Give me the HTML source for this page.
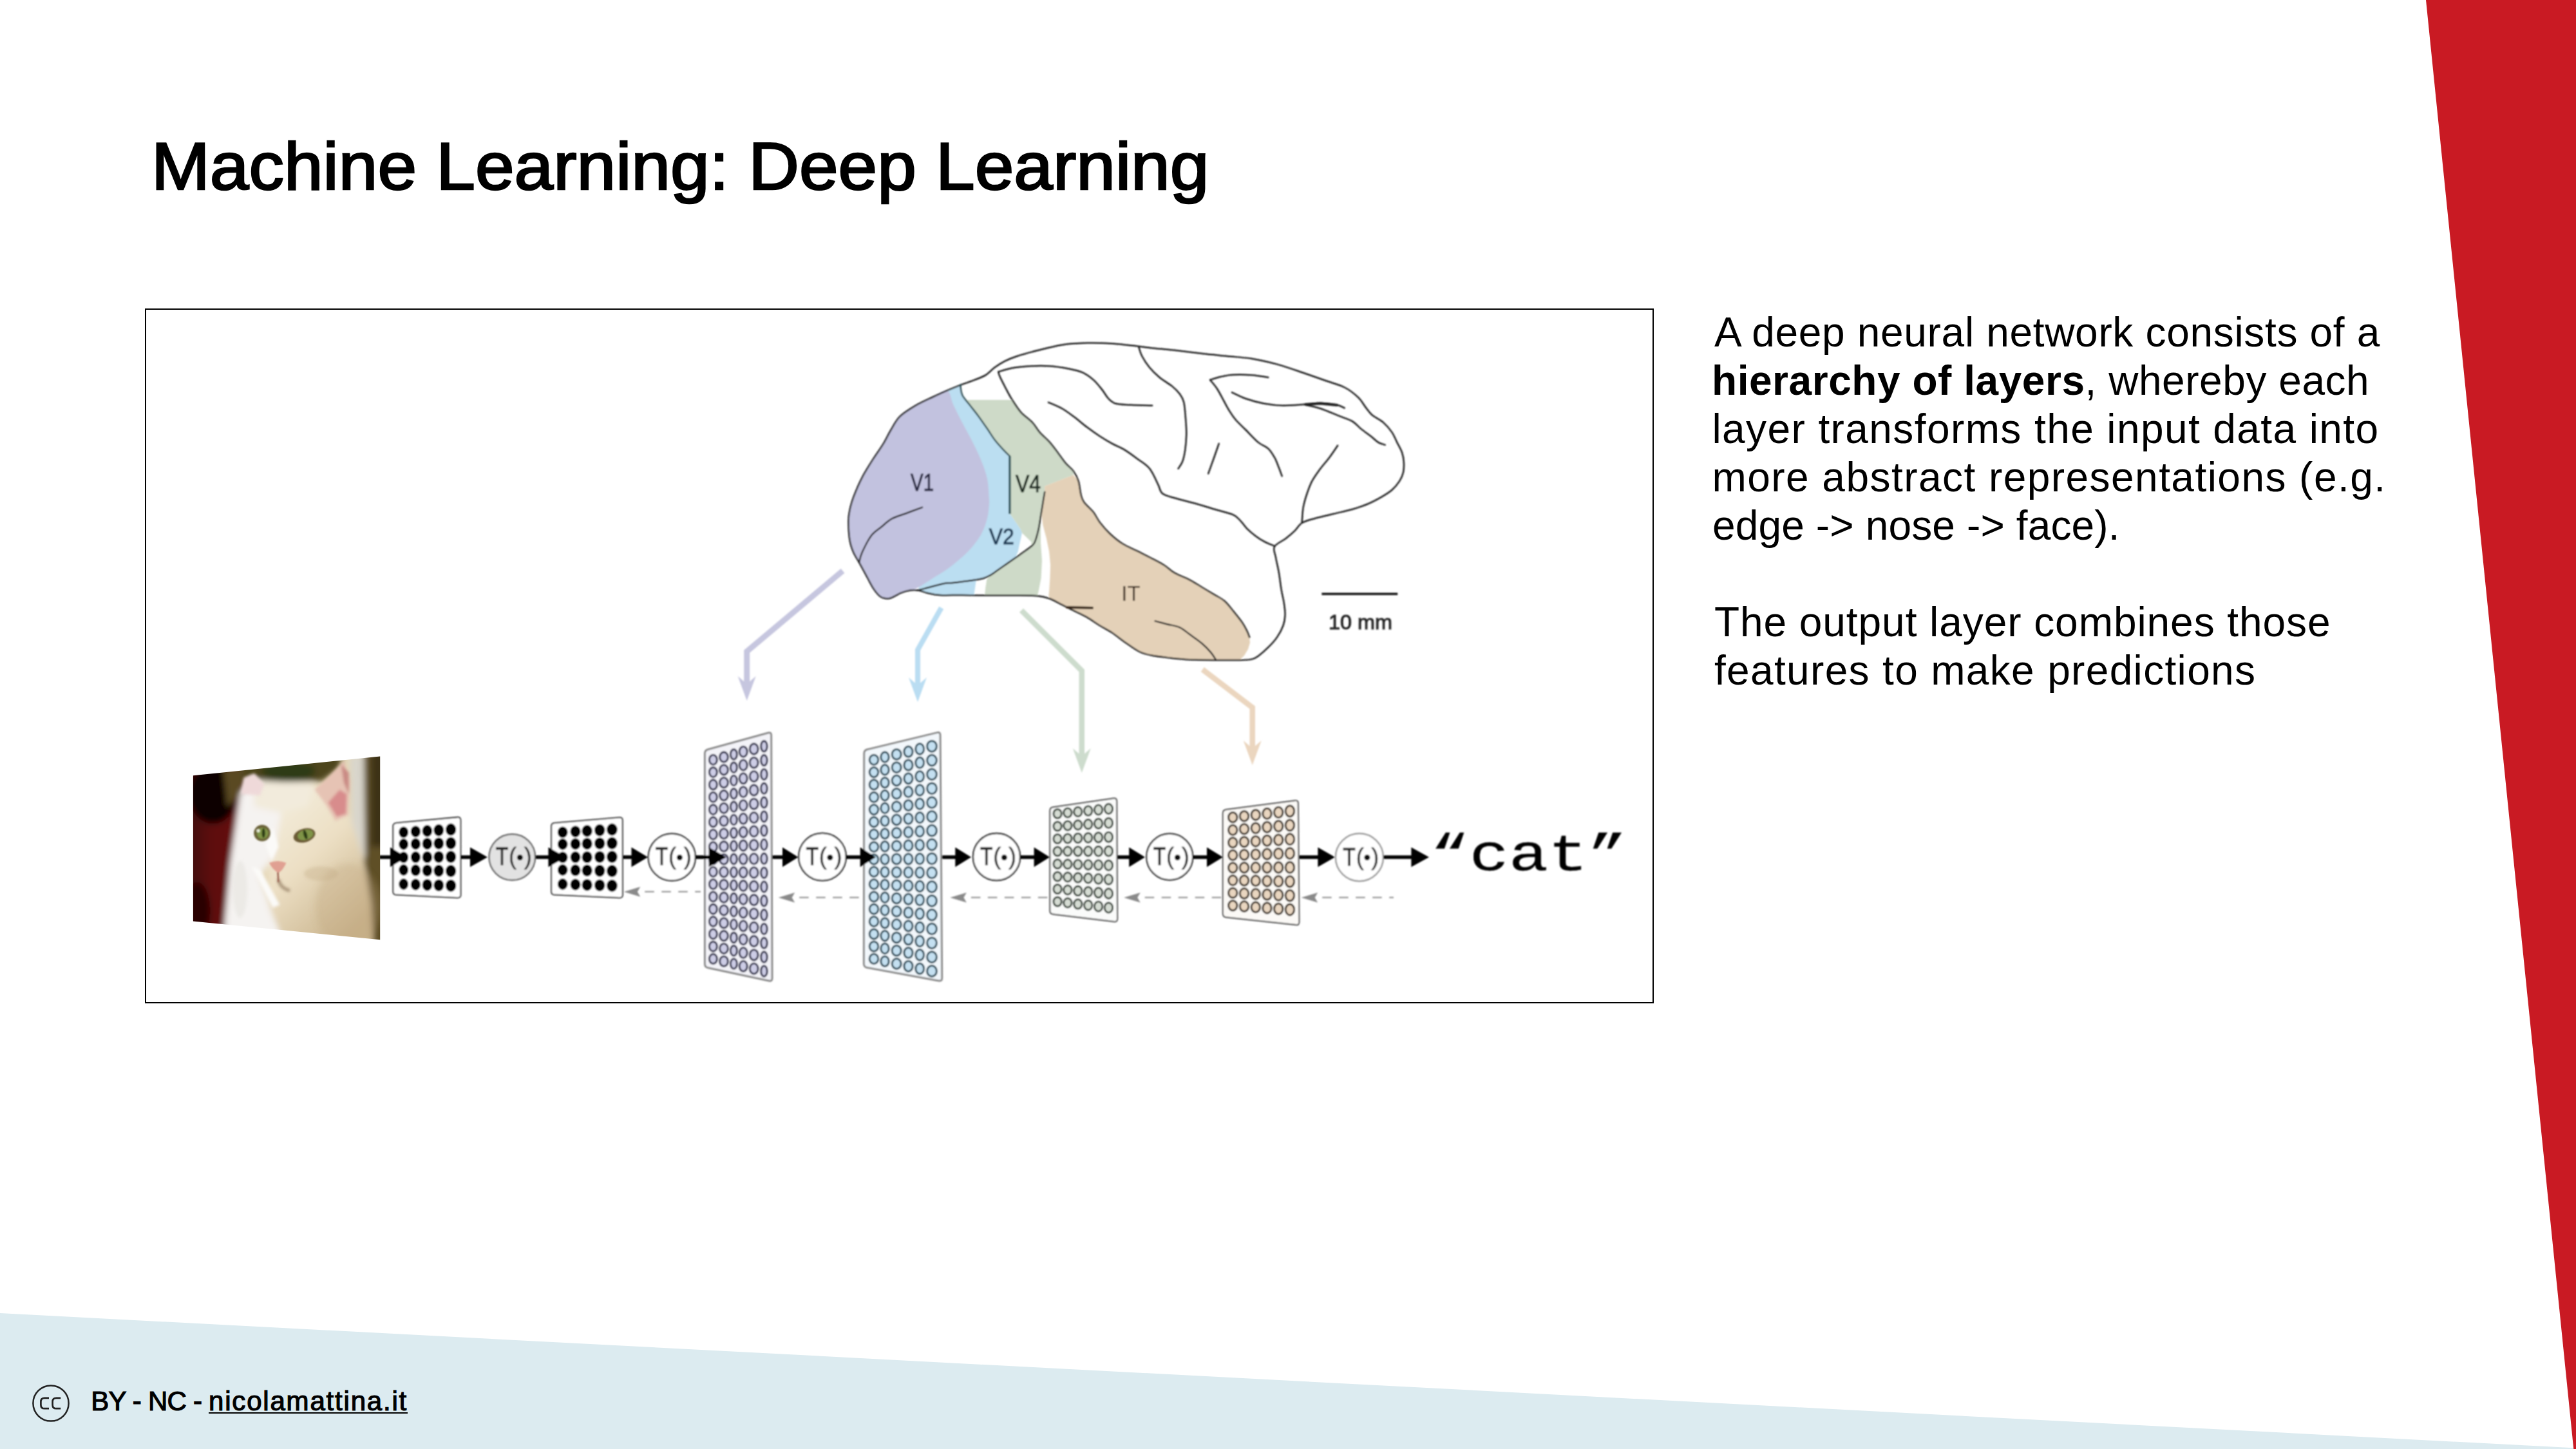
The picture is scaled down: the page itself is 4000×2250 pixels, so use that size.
<!DOCTYPE html>
<html lang="en">
<head>
<meta charset="utf-8">
<title>Machine Learning: Deep Learning</title>
<style>
html,body{margin:0;padding:0;background:#fff;}
body{width:4000px;height:2250px;position:relative;overflow:hidden;font-family:"Liberation Sans",sans-serif;color:#000;}
.abs{position:absolute;}
#deco{left:0;top:0;width:4000px;height:2250px;}
h1.title{margin:0;left:235.4px;top:205.6px;font-size:104px;line-height:104px;font-weight:normal;-webkit-text-stroke:2.6px #000;letter-spacing:0px;white-space:nowrap;transform-origin:0 0;transform:scaleX(1.0482);}
.body p{margin:0;position:absolute;left:2662px;white-space:nowrap;font-size:64px;line-height:76px;height:76px;}
.body b{font-weight:bold;}
.figure{left:224.9px;top:479px;width:2343.2px;height:1078.8px;border:2.25px solid #000;box-sizing:border-box;background:#fff;}
#figsvg{left:0;top:0;width:4000px;height:2250px;}
.footer{left:141.2px;top:2155.0px;font-size:42px;line-height:42px;white-space:nowrap;letter-spacing:0px;-webkit-text-stroke:1.2px #000;}
.footer .pre{letter-spacing:-0.77px;}
.footer u{letter-spacing:1.8px;text-decoration:underline;text-decoration-thickness:2.3px;text-underline-offset:2.5px;}
</style>
</head>
<body>
<svg id="deco" class="abs" viewBox="0 0 4000 2250" width="4000" height="2250">
<polygon points="0,2039 4000,2248.5 4000,2250 0,2250" fill="#DCEBF0"/>
<polygon points="3767,0 4000,0 4000,2250 3996.3,2250" fill="#C91A23"/>
</svg>
<h1 class="title abs">Machine Learning: Deep Learning</h1>
<div class="figure abs"></div>
<svg id="figsvg" class="abs" viewBox="0 0 4000 2250" width="4000" height="2250">
<defs>
<filter id="soft" x="-2%" y="-2%" width="104%" height="104%"><feGaussianBlur stdDeviation="0.95"/></filter>
<clipPath id="catclip"><polygon points="299.9,1204.2 590.2,1174.4 590.2,1459.2 299.9,1430.5"/></clipPath>
<filter id="cb1" x="-20%" y="-20%" width="140%" height="140%"><feGaussianBlur stdDeviation="22"/></filter>
<filter id="cb2" x="-20%" y="-20%" width="140%" height="140%"><feGaussianBlur stdDeviation="10"/></filter>
<filter id="cb3" x="-30%" y="-30%" width="160%" height="160%"><feGaussianBlur stdDeviation="5"/></filter>
<linearGradient id="catface" x1="0" y1="0" x2="0.6" y2="1"><stop offset="0" stop-color="#f6f0e2"/><stop offset="0.5" stop-color="#ecdfc4"/><stop offset="1" stop-color="#c9b38c"/></linearGradient>
<linearGradient id="catred" x1="0" y1="0" x2="1" y2="0"><stop offset="0" stop-color="#2a0404"/><stop offset="0.5" stop-color="#5c0c0c"/><stop offset="1" stop-color="#6a1212"/></linearGradient>

</defs>
<g filter="url(#soft)">
<path d="M1447.5,617.0L1470.8,606.4L1492.2,597.6L1494.1,613.2L1505.7,628.7L1519.3,646.2L1532.9,665.6L1544.6,683.0L1558.2,698.6L1567.9,708.3L1568.3,798.0L1576.6,809.7L1584.9,822.1L1587.0,827.6L1584.9,837.3L1582.1,849.7L1580.8,856.6L1576.6,866.3L1562.8,875.9L1549.0,885.6L1538.0,893.2L1526.9,898.0L1515.9,900.8L1512.4,924.0L1494.1,924.0L1459.2,924.0L1439.8,920.7L1426.2,916.8L1440.0,800.0Z" fill="#BBDEF1"/>
<path d="M1412.6,916.8C1410.0,917.4 1403.8,918.8 1399.0,920.7C1394.2,922.7 1387.7,927.1 1383.5,928.5C1379.3,929.9 1376.7,929.6 1373.8,929.1C1370.9,928.6 1368.9,928.1 1366.0,925.6C1363.1,923.1 1359.9,919.4 1356.3,913.9C1352.7,908.4 1348.3,899.4 1344.6,892.6C1340.9,885.8 1337.2,879.0 1334.0,873.2C1330.8,867.4 1327.6,863.4 1325.2,857.6C1322.8,851.8 1320.7,846.3 1319.4,838.2C1318.1,830.1 1317.5,816.8 1317.5,809.1C1317.5,801.4 1318.2,798.1 1319.5,792.0C1320.8,785.9 1322.0,780.8 1325.2,772.3C1328.4,763.8 1333.6,751.3 1338.8,741.3C1344.0,731.3 1350.8,720.9 1356.3,712.2C1361.8,703.5 1367.3,696.4 1371.8,688.9C1376.3,681.4 1379.3,674.5 1383.5,667.5C1387.7,660.5 1390.9,653.2 1397.0,647.1C1403.1,641.0 1411.9,635.6 1420.3,630.6C1428.7,625.6 1439.1,621.0 1447.5,617.0C1455.9,613.0 1465.3,604.4 1470.8,606.4C1476.3,608.4 1476.6,620.5 1480.5,628.7C1484.4,637.0 1489.2,646.5 1494.1,655.9C1498.9,665.3 1504.8,675.3 1509.6,685.0C1514.4,694.7 1519.3,704.4 1523.2,714.1C1527.1,723.8 1530.8,733.5 1532.9,743.2C1535.0,752.9 1535.3,765.3 1535.8,772.3C1536.3,779.3 1536.3,779.5 1535.8,785.0C1535.3,790.5 1535.0,797.6 1532.9,805.2C1530.8,812.8 1528.1,822.1 1523.2,830.5C1518.3,838.9 1511.9,847.3 1503.8,855.7C1495.7,864.1 1484.1,873.8 1474.7,880.9C1465.3,888.0 1455.6,893.2 1447.5,898.4C1439.4,903.6 1431.7,908.9 1426.2,912.0C1420.7,915.1 1416.8,916.0 1414.5,916.8C1412.2,917.6 1415.2,916.1 1412.6,916.8Z" fill="#C2C2DF"/>
<path d="M1500.0,621.0L1566.0,621.0L1571.7,620.9L1585.3,640.3L1602.8,655.9L1614.4,671.4L1630.0,686.9L1643.6,704.4L1655.2,719.9L1666.8,731.6L1666.8,737.4L1645.0,746.0L1622.2,755.0L1622.2,764.1L1619.4,780.7L1616.0,801.4L1616.0,842.8L1618.0,870.4L1616.6,898.0L1612.5,918.7L1611.1,924.6L1571.7,924.6L1529.0,924.6L1530.4,911.8L1532.4,899.4L1538.0,893.2L1549.0,885.6L1562.8,875.9L1576.6,866.3L1590.4,856.6L1601.5,848.3L1601.5,841.4L1587.0,827.6L1584.9,822.1L1576.6,809.7L1568.3,798.0L1567.9,708.3L1558.2,698.6L1544.6,683.0L1532.9,665.6L1519.3,646.2L1505.7,628.7Z" fill="#CEDAC8"/>
<path d="M1666.8,737.4L1674.6,747.1L1678.5,768.4L1683.3,780.0L1697.9,795.5L1707.6,811.0L1723.1,828.5L1742.5,844.0L1765.8,855.7L1788.8,867.3L1808.2,878.0L1823.8,889.7L1847.0,900.3L1866.5,912.0L1885.9,923.6L1901.4,933.3L1915.0,948.9L1928.6,966.3L1936.3,979.9L1940.2,989.6L1941.0,998.0L1938.0,1008.0L1932.0,1018.0L1924.7,1025.0L1885.9,1025.0L1847.0,1024.2L1817.9,1021.7L1788.8,1017.8L1769.4,1012.0L1748.0,998.0L1727.0,982.5L1707.6,971.2L1688.2,958.6L1668.8,948.9L1649.4,939.2L1630.0,929.5L1628.4,925.0L1629.1,918.7L1630.4,898.0L1631.1,877.3L1629.1,856.6L1624.9,835.9L1619.4,815.2L1617.5,801.4L1619.4,780.7L1622.2,764.1L1622.2,755.0L1645.0,746.0Z" fill="#E4D1B8"/>
<g fill="none" stroke="#1c1c1c" stroke-width="2.5" stroke-linecap="round" stroke-linejoin="round">
<path d="M1373.8,929.1C1370.9,928.6 1368.9,928.1 1366.0,925.6C1363.1,923.1 1359.9,919.4 1356.3,913.9C1352.7,908.4 1348.3,899.4 1344.6,892.6C1340.9,885.8 1337.2,879.0 1334.0,873.2C1330.8,867.4 1327.6,863.4 1325.2,857.6C1322.8,851.8 1320.7,846.3 1319.4,838.2C1318.1,830.1 1317.5,816.8 1317.5,809.1C1317.5,801.4 1318.2,798.1 1319.5,792.0C1320.8,785.9 1322.0,780.8 1325.2,772.3C1328.4,763.8 1333.6,751.3 1338.8,741.3C1344.0,731.3 1350.8,720.9 1356.3,712.2C1361.8,703.5 1367.3,696.4 1371.8,688.9C1376.3,681.4 1379.3,674.5 1383.5,667.5C1387.7,660.5 1390.9,653.2 1397.0,647.1C1403.1,641.0 1411.9,635.6 1420.3,630.6C1428.7,625.6 1439.1,621.0 1447.5,617.0C1455.9,613.0 1463.3,609.6 1470.8,606.4C1478.2,603.2 1485.1,600.4 1492.2,597.6C1499.3,594.9 1507.0,592.5 1513.5,589.9C1520.0,587.3 1525.8,585.3 1531.0,582.1C1536.2,578.9 1539.8,574.0 1544.6,570.5C1549.4,567.0 1554.3,563.7 1560.1,560.8C1565.9,557.9 1571.1,555.8 1579.5,553.0C1587.9,550.2 1598.9,547.2 1610.6,544.3C1622.2,541.4 1636.5,537.5 1649.4,535.5C1662.3,533.5 1675.3,532.9 1688.2,532.6C1701.1,532.3 1714.1,532.8 1727.0,533.6C1739.9,534.4 1755.5,536.4 1765.8,537.5C1776.1,538.6 1778.5,539.3 1788.8,540.4C1799.1,541.5 1814.6,542.8 1827.6,544.3C1840.5,545.8 1853.5,547.6 1866.5,549.1C1879.5,550.6 1892.4,551.7 1905.3,553.0C1918.2,554.3 1931.2,554.8 1944.1,556.9C1957.0,559.0 1970.0,562.0 1982.9,565.6C1995.8,569.2 2008.8,573.8 2021.7,578.2C2034.7,582.6 2049.6,587.9 2060.6,591.8C2071.6,595.7 2079.6,597.3 2087.7,601.5C2095.8,605.7 2103.6,611.9 2109.1,617.1C2114.6,622.3 2117.1,628.1 2120.7,632.6C2124.2,637.1 2125.9,640.3 2130.4,644.2C2134.9,648.1 2142.7,651.4 2147.9,655.9C2153.1,660.4 2157.9,666.2 2161.5,671.4C2165.1,676.6 2166.7,681.7 2169.3,686.9C2171.9,692.1 2175.2,697.3 2177.0,702.5C2178.8,707.7 2179.6,712.8 2179.9,718.0C2180.2,723.2 2180.1,728.6 2179.0,733.5C2177.9,738.4 2176.0,742.6 2173.1,747.1C2170.2,751.6 2166.3,756.5 2161.5,760.7C2156.7,764.9 2150.5,768.6 2144.0,772.3C2137.5,776.0 2130.1,779.9 2122.7,783.0C2115.3,786.1 2108.1,788.5 2099.4,791.0C2090.7,793.5 2080.0,795.6 2070.3,798.0C2060.6,800.4 2049.2,802.9 2041.1,805.2C2033.0,807.5 2026.9,808.8 2021.7,812.0C2016.5,815.2 2014.3,820.6 2010.1,824.6C2005.9,828.6 2001.7,832.2 1996.5,836.3C1991.3,840.3 1981.6,844.0 1979.0,848.9C1976.4,853.8 1979.9,858.8 1981.0,865.4C1982.1,872.0 1984.3,880.3 1985.8,888.7C1987.2,897.1 1988.4,908.1 1989.7,915.9C1991.0,923.7 1992.6,928.8 1993.6,935.3C1994.6,941.8 1995.7,948.7 1995.5,954.7C1995.3,960.7 1994.7,965.4 1992.6,971.2C1990.5,977.0 1986.8,983.9 1982.9,989.6C1979.0,995.3 1974.2,1000.4 1969.3,1005.2C1964.4,1010.1 1958.0,1015.6 1953.8,1018.7C1949.6,1021.8 1948.9,1022.6 1944.1,1023.6C1939.2,1024.7 1934.4,1024.8 1924.7,1025.0C1915.0,1025.2 1898.9,1025.1 1885.9,1025.0C1873.0,1024.9 1858.3,1024.8 1847.0,1024.2C1835.7,1023.7 1827.6,1022.8 1817.9,1021.7C1808.2,1020.6 1796.9,1019.4 1788.8,1017.8C1780.7,1016.2 1776.2,1015.3 1769.4,1012.0C1762.6,1008.7 1755.1,1002.9 1748.0,998.0C1740.9,993.1 1733.7,987.0 1727.0,982.5C1720.3,978.0 1714.1,975.2 1707.6,971.2C1701.1,967.2 1694.7,962.3 1688.2,958.6C1681.7,954.9 1675.3,952.1 1668.8,948.9C1662.3,945.7 1655.9,942.4 1649.4,939.2C1642.9,936.0 1636.5,931.8 1630.0,929.5C1623.5,927.2 1620.3,926.0 1610.6,925.2C1600.9,924.4 1584.7,924.7 1571.7,924.6C1558.8,924.5 1545.8,924.7 1532.9,924.6C1520.0,924.5 1506.4,924.1 1494.1,924.0C1481.8,923.9 1468.2,924.5 1459.2,924.0C1450.2,923.5 1445.3,921.9 1439.8,920.7C1434.3,919.5 1430.7,917.4 1426.2,916.8C1421.7,916.1 1417.1,916.1 1412.6,916.8C1408.1,917.4 1403.8,918.8 1399.0,920.7C1394.2,922.7 1387.7,927.1 1383.5,928.5C1379.3,929.9 1376.7,929.6 1373.8,929.1Z"/>
<path d="M1550.4,577.3C1550.7,578.4 1550.4,579.7 1552.3,584.1C1554.2,588.5 1558.8,597.4 1562.0,603.5C1565.2,609.6 1567.8,614.8 1571.7,620.9C1575.6,627.0 1580.1,634.5 1585.3,640.3C1590.5,646.1 1597.9,650.7 1602.8,655.9C1607.7,661.1 1609.9,666.2 1614.4,671.4C1618.9,676.6 1625.1,681.4 1630.0,686.9C1634.9,692.4 1639.4,698.9 1643.6,704.4C1647.8,709.9 1651.3,715.4 1655.2,719.9C1659.1,724.4 1663.6,727.1 1666.8,731.6C1670.0,736.1 1672.6,741.0 1674.6,747.1C1676.5,753.2 1677.0,762.9 1678.5,768.4C1680.0,773.9 1680.1,775.5 1683.3,780.0C1686.5,784.5 1693.9,790.3 1697.9,795.5C1702.0,800.7 1703.4,805.5 1707.6,811.0C1711.8,816.5 1717.3,823.0 1723.1,828.5C1728.9,834.0 1735.4,839.5 1742.5,844.0C1749.6,848.5 1758.1,851.8 1765.8,855.7C1773.5,859.6 1781.7,863.6 1788.8,867.3C1795.9,871.0 1802.4,874.3 1808.2,878.0C1814.0,881.7 1817.3,886.0 1823.8,889.7C1830.3,893.4 1839.9,896.6 1847.0,900.3C1854.1,904.0 1860.0,908.1 1866.5,912.0C1873.0,915.9 1880.1,920.1 1885.9,923.6C1891.7,927.1 1896.6,929.1 1901.4,933.3C1906.2,937.5 1910.5,943.4 1915.0,948.9C1919.5,954.4 1925.0,961.1 1928.6,966.3C1932.1,971.5 1934.4,976.0 1936.3,979.9C1938.2,983.8 1939.5,988.0 1940.2,989.6"/>
<path d="M1550.4,577.3C1554.0,576.3 1563.3,572.9 1571.7,571.4C1580.1,569.9 1591.2,569.0 1600.9,568.5C1610.6,568.0 1620.3,567.9 1630.0,568.5C1639.7,569.1 1650.7,570.8 1659.1,572.4C1667.5,574.0 1673.9,575.3 1680.4,578.2C1686.9,581.1 1692.7,585.4 1697.9,589.9C1703.1,594.4 1707.6,600.5 1711.5,605.4C1715.4,610.2 1717.7,615.4 1721.2,619.0C1724.8,622.6 1727.0,625.2 1732.8,626.8C1738.6,628.4 1746.7,628.2 1756.1,628.7C1765.5,629.2 1783.6,629.5 1789.1,629.7"/>
<path d="M1628.0,624.8C1631.6,626.4 1642.6,630.6 1649.4,634.5C1656.2,638.4 1662.3,643.2 1668.8,648.1C1675.3,653.0 1681.7,658.8 1688.2,663.6C1694.7,668.5 1701.1,673.0 1707.6,677.2C1714.1,681.4 1720.5,685.3 1727.0,688.9C1733.5,692.5 1739.9,694.7 1746.4,698.6C1752.9,702.5 1759.3,707.4 1765.8,712.2C1772.3,717.1 1779.8,720.9 1785.2,727.7C1790.7,734.5 1795.2,746.4 1798.5,752.9C1801.8,759.4 1800.5,762.9 1805.3,766.5C1810.1,770.1 1819.0,771.7 1827.6,774.3C1836.2,776.9 1847.1,779.2 1856.8,782.0C1866.5,784.8 1876.2,787.9 1885.9,790.8C1895.6,793.7 1908.2,796.3 1915.0,799.4C1921.8,802.5 1923.0,805.5 1926.6,809.1C1930.1,812.7 1932.4,816.9 1936.3,820.8C1940.2,824.7 1945.4,829.0 1949.9,832.4C1954.4,835.8 1958.7,838.5 1963.5,841.1C1968.3,843.7 1976.4,846.8 1979.0,847.9"/>
<path d="M1768.4,539.4C1769.2,541.7 1770.5,547.8 1773.3,553.0C1776.0,558.2 1780.4,565.0 1784.9,570.5C1789.4,576.0 1794.7,581.1 1800.5,586.0C1806.3,590.9 1814.7,595.4 1819.9,599.6C1825.1,603.8 1828.4,607.0 1831.5,611.2C1834.6,615.4 1836.7,618.0 1838.3,624.8C1839.9,631.6 1840.5,643.6 1841.2,652.0C1841.9,660.4 1842.4,667.5 1842.2,675.3C1842.0,683.1 1841.3,691.8 1840.3,698.6C1839.3,705.4 1838.2,711.1 1836.4,716.0C1834.6,720.9 1830.7,725.8 1829.6,727.7"/>
<path d="M1879.1,589.9C1881.8,589.1 1889.6,586.3 1895.6,585.0C1901.6,583.7 1906.9,582.5 1915.0,582.1C1923.1,581.7 1935.0,581.9 1944.1,582.5C1953.1,583.1 1965.1,585.4 1969.3,586.0"/>
<path d="M1879.1,589.9C1880.9,592.2 1886.4,598.3 1889.8,603.5C1893.2,608.7 1896.3,615.1 1899.5,620.9C1902.7,626.7 1906.0,633.2 1909.2,638.4C1912.4,643.6 1914.7,647.1 1918.9,652.0C1923.1,656.9 1928.6,661.7 1934.4,667.5C1940.2,673.3 1948.0,682.0 1953.8,686.9C1959.6,691.8 1965.1,692.7 1969.3,696.6C1973.5,700.5 1976.4,705.7 1979.0,710.2C1981.6,714.7 1983.0,718.9 1984.9,723.8C1986.9,728.6 1989.7,736.7 1990.7,739.3"/>
<path d="M1913.0,609.3C1916.6,610.9 1926.0,616.1 1934.4,619.0C1942.8,621.9 1953.8,625.0 1963.5,626.8C1973.2,628.6 1981.9,629.6 1992.6,629.7C2003.3,629.9 2017.9,628.4 2027.6,627.7C2037.3,627.1 2042.8,625.6 2050.9,625.8C2059.0,626.0 2070.0,627.4 2076.1,628.7C2082.2,630.0 2085.8,632.7 2087.7,633.5"/>
<path d="M2027.6,628.7C2031.5,629.7 2042.2,631.6 2050.9,634.5C2059.6,637.4 2071.9,643.0 2080.0,646.2C2088.1,649.4 2093.9,650.7 2099.4,653.9C2104.9,657.1 2108.2,661.7 2113.0,665.6C2117.8,669.5 2124.0,673.7 2128.5,677.2C2133.0,680.8 2136.4,684.6 2140.1,686.9C2143.8,689.2 2149.0,690.1 2150.8,690.8"/>
<path d="M1892.7,688.9C1891.4,692.6 1887.8,703.2 1885.0,711.0C1882.2,718.8 1877.7,731.3 1876.2,735.4"/>
<path d="M2077.1,691.8C2075.0,694.9 2069.1,703.9 2064.4,710.2C2059.7,716.5 2053.4,723.5 2048.9,729.6C2044.4,735.8 2040.5,741.0 2037.3,747.1C2034.1,753.2 2031.8,759.7 2029.5,766.5C2027.2,773.3 2025.0,780.5 2023.7,787.9C2022.4,795.3 2022.0,807.1 2021.7,811.0"/>
<path d="M1334.0,873.2C1334.8,870.6 1335.7,864.4 1338.8,857.6C1341.9,850.8 1347.6,838.9 1352.4,832.4C1357.2,825.9 1362.4,823.3 1367.9,818.8C1373.4,814.3 1378.6,808.9 1385.4,805.2C1392.2,801.5 1400.9,799.4 1408.7,796.5C1416.5,793.6 1428.1,789.2 1432.0,787.8"/>
<path d="M1622.2,764.1C1621.7,766.9 1620.4,774.5 1619.4,780.7C1618.4,786.9 1617.2,794.5 1616.0,801.4C1614.8,808.3 1614.0,815.4 1612.5,822.1C1611.0,828.8 1608.8,837.0 1607.0,841.4C1605.2,845.8 1604.3,845.8 1601.5,848.3C1598.7,850.8 1594.6,853.6 1590.4,856.6C1586.2,859.6 1581.2,863.1 1576.6,866.3C1572.0,869.5 1567.4,872.7 1562.8,875.9C1558.2,879.1 1553.1,882.7 1549.0,885.6C1544.9,888.5 1541.7,891.1 1538.0,893.2C1534.3,895.3 1532.0,896.6 1526.9,898.0C1521.8,899.4 1515.4,900.4 1507.6,901.5C1499.8,902.6 1487.1,904.1 1480.0,904.9C1472.9,905.7 1472.3,904.7 1465.0,906.2C1457.7,907.7 1442.7,912.1 1435.9,913.9C1429.1,915.7 1426.2,916.3 1424.2,916.8"/>
<path d="M1793.7,964.4C1796.8,965.2 1805.8,967.6 1812.1,969.2C1818.4,970.8 1825.7,971.5 1831.5,974.1C1837.3,976.7 1841.2,980.6 1847.0,984.8C1852.8,989.0 1861.0,994.6 1866.5,999.3C1872.0,1004.0 1876.5,1008.8 1880.0,1012.9C1883.5,1017.0 1886.5,1022.3 1887.8,1024.2"/>
</g>
<path d="M1491.2,597.6C1491.7,600.2 1491.7,608.0 1494.1,613.2C1496.5,618.4 1501.5,623.2 1505.7,628.7C1509.9,634.2 1514.8,640.1 1519.3,646.2C1523.8,652.4 1528.7,659.5 1532.9,665.6C1537.1,671.7 1540.4,677.5 1544.6,683.0C1548.8,688.5 1554.3,694.4 1558.2,698.6C1562.1,702.8 1566.3,706.7 1567.9,708.3" fill="none" stroke="#2f4f55" stroke-width="2.6" stroke-linecap="round"/>
<path d="M1567.9,708 V798" fill="none" stroke="#355a60" stroke-width="3.6"/>
<path d="M1657,943 L1696,944" fill="none" stroke="#3a2a1a" stroke-width="4" stroke-linecap="round"/>
<path d="M2027,628 L2050,626.5 L2076,629" fill="none" stroke="#1c1c1c" stroke-width="4" stroke-linecap="round"/>
<path d="M2052.4,922.3 H2170.2" stroke="#111" stroke-width="3.6" fill="none"/>
<text x="2112.5" y="977" font-family="Liberation Sans, sans-serif" font-size="31" textLength="99" lengthAdjust="spacingAndGlyphs" text-anchor="middle" fill="#222" stroke="#222" stroke-width="0.9">10 mm</text>
<text x="1432" y="761.7" font-family="Liberation Sans, sans-serif" font-size="36" textLength="36" lengthAdjust="spacingAndGlyphs" text-anchor="middle" fill="#262640" stroke="#262640" stroke-width="1.0">V1</text>
<text x="1596.5" y="763.6" font-family="Liberation Sans, sans-serif" font-size="36" textLength="39" lengthAdjust="spacingAndGlyphs" text-anchor="middle" fill="#1c2a20" stroke="#1c2a20" stroke-width="1.0">V4</text>
<text x="1555.2" y="845" font-family="Liberation Sans, sans-serif" font-size="35.5" textLength="39" lengthAdjust="spacingAndGlyphs" text-anchor="middle" fill="#1c3a55" stroke="#1c3a55" stroke-width="1.0">V2</text>
<text x="1756" y="933" font-family="Liberation Sans, sans-serif" font-size="33" text-anchor="middle" fill="#3a2a1a">IT</text>
<path d="M1308.6,886.4L1159.7,1011.5L1159.7,1062.0" fill="none" stroke="#C6C6DF" stroke-width="9" stroke-linejoin="miter"/><path d="M1159.7,1088 L1145.7,1050 L1159.7,1062 L1173.7,1050 Z" fill="#C6C6DF"/>
<path d="M1461.7,943.8L1425.0,1009.0L1425.0,1064.0" fill="none" stroke="#BADDF2" stroke-width="8" stroke-linejoin="miter"/><path d="M1425,1090 L1411,1052 L1425,1064 L1439,1052 Z" fill="#BADDF2"/>
<path d="M1586.0,947.8L1679.8,1041.6L1679.8,1174.0" fill="none" stroke="#CDDCCD" stroke-width="8.5" stroke-linejoin="miter"/><path d="M1679.8,1200 L1665.8,1162 L1679.8,1174 L1693.8,1162 Z" fill="#CDDCCD"/>
<path d="M1867.3,1039.5L1944.7,1098.6L1944.7,1162.0" fill="none" stroke="#EBD6BF" stroke-width="8.5" stroke-linejoin="miter"/><path d="M1944.7,1188 L1930.7,1150 L1944.7,1162 L1958.7,1150 Z" fill="#EBD6BF"/>
<path d="M1001.3,1384.7 H1088" stroke="#9a9a9a" stroke-width="2.3" stroke-dasharray="14.5 11.5" fill="none"/><path d="M968.8,1384.7 L994.3,1376.9 L989.8,1384.7 L994.3,1392.5 Z" fill="#8a8a8a"/>
<path d="M1241.2,1393.7 H1341" stroke="#9a9a9a" stroke-width="2.3" stroke-dasharray="14.5 11.5" fill="none"/><path d="M1208.7,1393.7 L1234.2,1385.9 L1229.7,1393.7 L1234.2,1401.5 Z" fill="#8a8a8a"/>
<path d="M1507.9,1393.7 H1630" stroke="#9a9a9a" stroke-width="2.3" stroke-dasharray="14.5 11.5" fill="none"/><path d="M1475.4,1393.7 L1500.9,1385.9 L1496.4,1393.7 L1500.9,1401.5 Z" fill="#8a8a8a"/>
<path d="M1777.7,1393.7 H1898" stroke="#9a9a9a" stroke-width="2.3" stroke-dasharray="14.5 11.5" fill="none"/><path d="M1745.2,1393.7 L1770.7,1385.9 L1766.2,1393.7 L1770.7,1401.5 Z" fill="#8a8a8a"/>
<path d="M2053.2,1393.7 H2164" stroke="#9a9a9a" stroke-width="2.3" stroke-dasharray="14.5 11.5" fill="none"/><path d="M2020.7,1393.7 L2046.2,1385.9 L2041.7,1393.7 L2046.2,1401.5 Z" fill="#8a8a8a"/>
<g fill="#000"><path d="M610.4,1283.3Q610.4,1278.3 615.4,1277.8L710.2,1269.0Q715.2,1268.5 715.2,1273.5L715.4,1389.3Q715.4,1394.3 710.4,1394.1L615.4,1389.4Q610.4,1389.2 610.4,1384.2Z" fill="#fff" stroke="#474747" stroke-width="2.3"/><ellipse cx="626.7" cy="1292.2" rx="7.4" ry="8.8"/><ellipse cx="626.7" cy="1310.9" rx="7.4" ry="8.8"/><ellipse cx="626.7" cy="1331.3" rx="7.4" ry="8.8"/><ellipse cx="626.7" cy="1350.9" rx="7.4" ry="8.8"/><ellipse cx="626.7" cy="1372.9" rx="7.4" ry="8.8"/><ellipse cx="645.4" cy="1291.2" rx="7.6" ry="9.0"/><ellipse cx="645.4" cy="1310.5" rx="7.6" ry="9.0"/><ellipse cx="645.4" cy="1331.1" rx="7.6" ry="9.0"/><ellipse cx="645.4" cy="1351.3" rx="7.6" ry="9.0"/><ellipse cx="645.4" cy="1373.5" rx="7.6" ry="9.0"/><ellipse cx="663.4" cy="1290.2" rx="7.8" ry="9.2"/><ellipse cx="663.4" cy="1310.1" rx="7.8" ry="9.2"/><ellipse cx="663.4" cy="1330.9" rx="7.8" ry="9.2"/><ellipse cx="663.4" cy="1351.7" rx="7.8" ry="9.2"/><ellipse cx="663.4" cy="1374.1" rx="7.8" ry="9.2"/><ellipse cx="681.3" cy="1289.1" rx="7.9" ry="9.3"/><ellipse cx="681.3" cy="1309.7" rx="7.9" ry="9.3"/><ellipse cx="681.3" cy="1330.7" rx="7.9" ry="9.3"/><ellipse cx="681.3" cy="1352.1" rx="7.9" ry="9.3"/><ellipse cx="681.3" cy="1374.7" rx="7.9" ry="9.3"/><ellipse cx="700.1" cy="1288.1" rx="8.1" ry="9.5"/><ellipse cx="700.1" cy="1309.3" rx="8.1" ry="9.5"/><ellipse cx="700.1" cy="1330.5" rx="8.1" ry="9.5"/><ellipse cx="700.1" cy="1352.5" rx="8.1" ry="9.5"/><ellipse cx="700.1" cy="1375.3" rx="8.1" ry="9.5"/></g>
<g fill="#000"><path d="M856.1,1283.3Q856.1,1278.3 861.1,1277.9L961.7,1269.4Q966.7,1269.0 966.7,1274.0L966.9,1389.3Q966.9,1394.3 961.9,1394.1L861.1,1389.4Q856.1,1389.2 856.1,1384.2Z" fill="#fff" stroke="#474747" stroke-width="2.3"/><ellipse cx="873.7" cy="1292.2" rx="7.8" ry="8.8"/><ellipse cx="873.7" cy="1310.9" rx="7.8" ry="8.8"/><ellipse cx="873.7" cy="1331.3" rx="7.8" ry="8.8"/><ellipse cx="873.7" cy="1350.9" rx="7.8" ry="8.8"/><ellipse cx="873.7" cy="1372.9" rx="7.8" ry="8.8"/><ellipse cx="893.5" cy="1291.2" rx="7.9" ry="9.0"/><ellipse cx="893.5" cy="1310.5" rx="7.9" ry="9.0"/><ellipse cx="893.5" cy="1331.1" rx="7.9" ry="9.0"/><ellipse cx="893.5" cy="1351.3" rx="7.9" ry="9.0"/><ellipse cx="893.5" cy="1373.5" rx="7.9" ry="9.0"/><ellipse cx="911.6" cy="1290.2" rx="8.1" ry="9.2"/><ellipse cx="911.6" cy="1310.1" rx="8.1" ry="9.2"/><ellipse cx="911.6" cy="1330.9" rx="8.1" ry="9.2"/><ellipse cx="911.6" cy="1351.7" rx="8.1" ry="9.2"/><ellipse cx="911.6" cy="1374.1" rx="8.1" ry="9.2"/><ellipse cx="931.2" cy="1289.1" rx="8.2" ry="9.3"/><ellipse cx="931.2" cy="1309.7" rx="8.2" ry="9.3"/><ellipse cx="931.2" cy="1330.7" rx="8.2" ry="9.3"/><ellipse cx="931.2" cy="1352.1" rx="8.2" ry="9.3"/><ellipse cx="931.2" cy="1374.7" rx="8.2" ry="9.3"/><ellipse cx="950.4" cy="1288.1" rx="8.3" ry="9.5"/><ellipse cx="950.4" cy="1309.3" rx="8.3" ry="9.5"/><ellipse cx="950.4" cy="1330.5" rx="8.3" ry="9.5"/><ellipse cx="950.4" cy="1352.5" rx="8.3" ry="9.5"/><ellipse cx="950.4" cy="1375.3" rx="8.3" ry="9.5"/></g>
<path d="M1094.5,1170.0Q1094.5,1165.0 1099.3,1163.7L1192.8,1138.0Q1197.6,1136.7 1197.6,1141.7L1199.0,1519.0Q1199.0,1524.0 1194.1,1523.0L1099.4,1502.7Q1094.5,1501.7 1094.5,1496.7Z" fill="#F3F3F8" stroke="#8a8a8a" stroke-width="3.0"/><g fill="#CDCDE6" stroke="#3f3f58" stroke-width="3.1"><ellipse cx="1107.4" cy="1179.8" rx="6.0" ry="7.5"/><ellipse cx="1107.4" cy="1199.1" rx="6.0" ry="7.5"/><ellipse cx="1107.4" cy="1218.4" rx="6.0" ry="7.5"/><ellipse cx="1107.4" cy="1237.8" rx="6.0" ry="7.5"/><ellipse cx="1107.4" cy="1257.1" rx="6.0" ry="7.5"/><ellipse cx="1107.4" cy="1276.4" rx="6.0" ry="7.5"/><ellipse cx="1107.4" cy="1295.7" rx="6.0" ry="7.5"/><ellipse cx="1107.4" cy="1315.0" rx="6.0" ry="7.5"/><ellipse cx="1107.4" cy="1334.3" rx="6.0" ry="7.5"/><ellipse cx="1107.4" cy="1353.7" rx="6.0" ry="7.5"/><ellipse cx="1107.4" cy="1373.0" rx="6.0" ry="7.5"/><ellipse cx="1107.4" cy="1392.3" rx="6.0" ry="7.5"/><ellipse cx="1107.4" cy="1411.6" rx="6.0" ry="7.5"/><ellipse cx="1107.4" cy="1430.9" rx="6.0" ry="7.5"/><ellipse cx="1107.4" cy="1450.3" rx="6.0" ry="7.5"/><ellipse cx="1107.4" cy="1469.6" rx="6.0" ry="7.5"/><ellipse cx="1107.4" cy="1488.9" rx="6.0" ry="7.5"/><ellipse cx="1124.0" cy="1175.6" rx="6.4" ry="7.7"/><ellipse cx="1124.0" cy="1195.4" rx="6.4" ry="7.7"/><ellipse cx="1124.0" cy="1215.2" rx="6.4" ry="7.7"/><ellipse cx="1124.0" cy="1235.1" rx="6.4" ry="7.7"/><ellipse cx="1124.0" cy="1254.9" rx="6.4" ry="7.7"/><ellipse cx="1124.0" cy="1274.7" rx="6.4" ry="7.7"/><ellipse cx="1124.0" cy="1294.5" rx="6.4" ry="7.7"/><ellipse cx="1124.0" cy="1314.3" rx="6.4" ry="7.7"/><ellipse cx="1124.0" cy="1334.2" rx="6.4" ry="7.7"/><ellipse cx="1124.0" cy="1354.0" rx="6.4" ry="7.7"/><ellipse cx="1124.0" cy="1373.8" rx="6.4" ry="7.7"/><ellipse cx="1124.0" cy="1393.6" rx="6.4" ry="7.7"/><ellipse cx="1124.0" cy="1413.4" rx="6.4" ry="7.7"/><ellipse cx="1124.0" cy="1433.2" rx="6.4" ry="7.7"/><ellipse cx="1124.0" cy="1453.1" rx="6.4" ry="7.7"/><ellipse cx="1124.0" cy="1472.9" rx="6.4" ry="7.7"/><ellipse cx="1124.0" cy="1492.7" rx="6.4" ry="7.7"/><ellipse cx="1139.4" cy="1171.4" rx="5.0" ry="7.8"/><ellipse cx="1139.4" cy="1191.7" rx="5.0" ry="7.8"/><ellipse cx="1139.4" cy="1212.0" rx="5.0" ry="7.8"/><ellipse cx="1139.4" cy="1232.4" rx="5.0" ry="7.8"/><ellipse cx="1139.4" cy="1252.7" rx="5.0" ry="7.8"/><ellipse cx="1139.4" cy="1273.0" rx="5.0" ry="7.8"/><ellipse cx="1139.4" cy="1293.3" rx="5.0" ry="7.8"/><ellipse cx="1139.4" cy="1313.6" rx="5.0" ry="7.8"/><ellipse cx="1139.4" cy="1333.9" rx="5.0" ry="7.8"/><ellipse cx="1139.4" cy="1354.3" rx="5.0" ry="7.8"/><ellipse cx="1139.4" cy="1374.6" rx="5.0" ry="7.8"/><ellipse cx="1139.4" cy="1394.9" rx="5.0" ry="7.8"/><ellipse cx="1139.4" cy="1415.2" rx="5.0" ry="7.8"/><ellipse cx="1139.4" cy="1435.5" rx="5.0" ry="7.8"/><ellipse cx="1139.4" cy="1455.9" rx="5.0" ry="7.8"/><ellipse cx="1139.4" cy="1476.2" rx="5.0" ry="7.8"/><ellipse cx="1139.4" cy="1496.5" rx="5.0" ry="7.8"/><ellipse cx="1154.2" cy="1167.2" rx="6.0" ry="8.0"/><ellipse cx="1154.2" cy="1188.0" rx="6.0" ry="8.0"/><ellipse cx="1154.2" cy="1208.8" rx="6.0" ry="8.0"/><ellipse cx="1154.2" cy="1229.7" rx="6.0" ry="8.0"/><ellipse cx="1154.2" cy="1250.5" rx="6.0" ry="8.0"/><ellipse cx="1154.2" cy="1271.3" rx="6.0" ry="8.0"/><ellipse cx="1154.2" cy="1292.1" rx="6.0" ry="8.0"/><ellipse cx="1154.2" cy="1312.9" rx="6.0" ry="8.0"/><ellipse cx="1154.2" cy="1333.8" rx="6.0" ry="8.0"/><ellipse cx="1154.2" cy="1354.6" rx="6.0" ry="8.0"/><ellipse cx="1154.2" cy="1375.4" rx="6.0" ry="8.0"/><ellipse cx="1154.2" cy="1396.2" rx="6.0" ry="8.0"/><ellipse cx="1154.2" cy="1417.0" rx="6.0" ry="8.0"/><ellipse cx="1154.2" cy="1437.8" rx="6.0" ry="8.0"/><ellipse cx="1154.2" cy="1458.7" rx="6.0" ry="8.0"/><ellipse cx="1154.2" cy="1479.5" rx="6.0" ry="8.0"/><ellipse cx="1154.2" cy="1500.3" rx="6.0" ry="8.0"/><ellipse cx="1170.7" cy="1163.0" rx="6.4" ry="8.1"/><ellipse cx="1170.7" cy="1184.3" rx="6.4" ry="8.1"/><ellipse cx="1170.7" cy="1205.6" rx="6.4" ry="8.1"/><ellipse cx="1170.7" cy="1227.0" rx="6.4" ry="8.1"/><ellipse cx="1170.7" cy="1248.3" rx="6.4" ry="8.1"/><ellipse cx="1170.7" cy="1269.6" rx="6.4" ry="8.1"/><ellipse cx="1170.7" cy="1290.9" rx="6.4" ry="8.1"/><ellipse cx="1170.7" cy="1312.2" rx="6.4" ry="8.1"/><ellipse cx="1170.7" cy="1333.6" rx="6.4" ry="8.1"/><ellipse cx="1170.7" cy="1354.9" rx="6.4" ry="8.1"/><ellipse cx="1170.7" cy="1376.2" rx="6.4" ry="8.1"/><ellipse cx="1170.7" cy="1397.5" rx="6.4" ry="8.1"/><ellipse cx="1170.7" cy="1418.8" rx="6.4" ry="8.1"/><ellipse cx="1170.7" cy="1440.1" rx="6.4" ry="8.1"/><ellipse cx="1170.7" cy="1461.5" rx="6.4" ry="8.1"/><ellipse cx="1170.7" cy="1482.8" rx="6.4" ry="8.1"/><ellipse cx="1170.7" cy="1504.1" rx="6.4" ry="8.1"/><ellipse cx="1186.4" cy="1158.8" rx="4.8" ry="8.2"/><ellipse cx="1186.4" cy="1180.6" rx="4.8" ry="8.2"/><ellipse cx="1186.4" cy="1202.4" rx="4.8" ry="8.2"/><ellipse cx="1186.4" cy="1224.3" rx="4.8" ry="8.2"/><ellipse cx="1186.4" cy="1246.1" rx="4.8" ry="8.2"/><ellipse cx="1186.4" cy="1267.9" rx="4.8" ry="8.2"/><ellipse cx="1186.4" cy="1289.7" rx="4.8" ry="8.2"/><ellipse cx="1186.4" cy="1311.5" rx="4.8" ry="8.2"/><ellipse cx="1186.4" cy="1333.3" rx="4.8" ry="8.2"/><ellipse cx="1186.4" cy="1355.2" rx="4.8" ry="8.2"/><ellipse cx="1186.4" cy="1377.0" rx="4.8" ry="8.2"/><ellipse cx="1186.4" cy="1398.8" rx="4.8" ry="8.2"/><ellipse cx="1186.4" cy="1420.6" rx="4.8" ry="8.2"/><ellipse cx="1186.4" cy="1442.4" rx="4.8" ry="8.2"/><ellipse cx="1186.4" cy="1464.3" rx="4.8" ry="8.2"/><ellipse cx="1186.4" cy="1486.1" rx="4.8" ry="8.2"/><ellipse cx="1186.4" cy="1507.9" rx="4.8" ry="8.2"/></g>
<path d="M1341.8,1170.0Q1341.8,1165.0 1346.7,1163.8L1455.1,1137.6Q1460.0,1136.4 1460.0,1141.4L1462.7,1518.8Q1462.7,1523.8 1457.8,1522.9L1346.3,1502.5Q1341.4,1501.6 1341.4,1496.6Z" fill="#F2F7FB" stroke="#8a8a8a" stroke-width="3.0"/><g fill="#C4E0F1" stroke="#33505d" stroke-width="3.0"><ellipse cx="1357.0" cy="1179.8" rx="6.8" ry="7.6"/><ellipse cx="1357.0" cy="1199.1" rx="6.8" ry="7.6"/><ellipse cx="1357.0" cy="1218.4" rx="6.8" ry="7.6"/><ellipse cx="1357.0" cy="1237.8" rx="6.8" ry="7.6"/><ellipse cx="1357.0" cy="1257.1" rx="6.8" ry="7.6"/><ellipse cx="1357.0" cy="1276.4" rx="6.8" ry="7.6"/><ellipse cx="1357.0" cy="1295.7" rx="6.8" ry="7.6"/><ellipse cx="1357.0" cy="1315.0" rx="6.8" ry="7.6"/><ellipse cx="1357.0" cy="1334.3" rx="6.8" ry="7.6"/><ellipse cx="1357.0" cy="1353.7" rx="6.8" ry="7.6"/><ellipse cx="1357.0" cy="1373.0" rx="6.8" ry="7.6"/><ellipse cx="1357.0" cy="1392.3" rx="6.8" ry="7.6"/><ellipse cx="1357.0" cy="1411.6" rx="6.8" ry="7.6"/><ellipse cx="1357.0" cy="1430.9" rx="6.8" ry="7.6"/><ellipse cx="1357.0" cy="1450.3" rx="6.8" ry="7.6"/><ellipse cx="1357.0" cy="1469.6" rx="6.8" ry="7.6"/><ellipse cx="1357.0" cy="1488.9" rx="6.8" ry="7.6"/><ellipse cx="1374.0" cy="1175.6" rx="6.2" ry="7.8"/><ellipse cx="1374.0" cy="1195.4" rx="6.2" ry="7.8"/><ellipse cx="1374.0" cy="1215.2" rx="6.2" ry="7.8"/><ellipse cx="1374.0" cy="1235.1" rx="6.2" ry="7.8"/><ellipse cx="1374.0" cy="1254.9" rx="6.2" ry="7.8"/><ellipse cx="1374.0" cy="1274.7" rx="6.2" ry="7.8"/><ellipse cx="1374.0" cy="1294.5" rx="6.2" ry="7.8"/><ellipse cx="1374.0" cy="1314.3" rx="6.2" ry="7.8"/><ellipse cx="1374.0" cy="1334.2" rx="6.2" ry="7.8"/><ellipse cx="1374.0" cy="1354.0" rx="6.2" ry="7.8"/><ellipse cx="1374.0" cy="1373.8" rx="6.2" ry="7.8"/><ellipse cx="1374.0" cy="1393.6" rx="6.2" ry="7.8"/><ellipse cx="1374.0" cy="1413.4" rx="6.2" ry="7.8"/><ellipse cx="1374.0" cy="1433.2" rx="6.2" ry="7.8"/><ellipse cx="1374.0" cy="1453.1" rx="6.2" ry="7.8"/><ellipse cx="1374.0" cy="1472.9" rx="6.2" ry="7.8"/><ellipse cx="1374.0" cy="1492.7" rx="6.2" ry="7.8"/><ellipse cx="1392.2" cy="1171.4" rx="7.0" ry="7.9"/><ellipse cx="1392.2" cy="1191.7" rx="7.0" ry="7.9"/><ellipse cx="1392.2" cy="1212.0" rx="7.0" ry="7.9"/><ellipse cx="1392.2" cy="1232.4" rx="7.0" ry="7.9"/><ellipse cx="1392.2" cy="1252.7" rx="7.0" ry="7.9"/><ellipse cx="1392.2" cy="1273.0" rx="7.0" ry="7.9"/><ellipse cx="1392.2" cy="1293.3" rx="7.0" ry="7.9"/><ellipse cx="1392.2" cy="1313.6" rx="7.0" ry="7.9"/><ellipse cx="1392.2" cy="1333.9" rx="7.0" ry="7.9"/><ellipse cx="1392.2" cy="1354.3" rx="7.0" ry="7.9"/><ellipse cx="1392.2" cy="1374.6" rx="7.0" ry="7.9"/><ellipse cx="1392.2" cy="1394.9" rx="7.0" ry="7.9"/><ellipse cx="1392.2" cy="1415.2" rx="7.0" ry="7.9"/><ellipse cx="1392.2" cy="1435.5" rx="7.0" ry="7.9"/><ellipse cx="1392.2" cy="1455.9" rx="7.0" ry="7.9"/><ellipse cx="1392.2" cy="1476.2" rx="7.0" ry="7.9"/><ellipse cx="1392.2" cy="1496.5" rx="7.0" ry="7.9"/><ellipse cx="1410.5" cy="1167.2" rx="6.6" ry="8.1"/><ellipse cx="1410.5" cy="1188.0" rx="6.6" ry="8.1"/><ellipse cx="1410.5" cy="1208.8" rx="6.6" ry="8.1"/><ellipse cx="1410.5" cy="1229.7" rx="6.6" ry="8.1"/><ellipse cx="1410.5" cy="1250.5" rx="6.6" ry="8.1"/><ellipse cx="1410.5" cy="1271.3" rx="6.6" ry="8.1"/><ellipse cx="1410.5" cy="1292.1" rx="6.6" ry="8.1"/><ellipse cx="1410.5" cy="1312.9" rx="6.6" ry="8.1"/><ellipse cx="1410.5" cy="1333.8" rx="6.6" ry="8.1"/><ellipse cx="1410.5" cy="1354.6" rx="6.6" ry="8.1"/><ellipse cx="1410.5" cy="1375.4" rx="6.6" ry="8.1"/><ellipse cx="1410.5" cy="1396.2" rx="6.6" ry="8.1"/><ellipse cx="1410.5" cy="1417.0" rx="6.6" ry="8.1"/><ellipse cx="1410.5" cy="1437.8" rx="6.6" ry="8.1"/><ellipse cx="1410.5" cy="1458.7" rx="6.6" ry="8.1"/><ellipse cx="1410.5" cy="1479.5" rx="6.6" ry="8.1"/><ellipse cx="1410.5" cy="1500.3" rx="6.6" ry="8.1"/><ellipse cx="1428.2" cy="1163.0" rx="6.4" ry="8.2"/><ellipse cx="1428.2" cy="1184.3" rx="6.4" ry="8.2"/><ellipse cx="1428.2" cy="1205.6" rx="6.4" ry="8.2"/><ellipse cx="1428.2" cy="1227.0" rx="6.4" ry="8.2"/><ellipse cx="1428.2" cy="1248.3" rx="6.4" ry="8.2"/><ellipse cx="1428.2" cy="1269.6" rx="6.4" ry="8.2"/><ellipse cx="1428.2" cy="1290.9" rx="6.4" ry="8.2"/><ellipse cx="1428.2" cy="1312.2" rx="6.4" ry="8.2"/><ellipse cx="1428.2" cy="1333.6" rx="6.4" ry="8.2"/><ellipse cx="1428.2" cy="1354.9" rx="6.4" ry="8.2"/><ellipse cx="1428.2" cy="1376.2" rx="6.4" ry="8.2"/><ellipse cx="1428.2" cy="1397.5" rx="6.4" ry="8.2"/><ellipse cx="1428.2" cy="1418.8" rx="6.4" ry="8.2"/><ellipse cx="1428.2" cy="1440.1" rx="6.4" ry="8.2"/><ellipse cx="1428.2" cy="1461.5" rx="6.4" ry="8.2"/><ellipse cx="1428.2" cy="1482.8" rx="6.4" ry="8.2"/><ellipse cx="1428.2" cy="1504.1" rx="6.4" ry="8.2"/><ellipse cx="1447.0" cy="1158.8" rx="7.4" ry="8.4"/><ellipse cx="1447.0" cy="1180.6" rx="7.4" ry="8.4"/><ellipse cx="1447.0" cy="1202.4" rx="7.4" ry="8.4"/><ellipse cx="1447.0" cy="1224.3" rx="7.4" ry="8.4"/><ellipse cx="1447.0" cy="1246.1" rx="7.4" ry="8.4"/><ellipse cx="1447.0" cy="1267.9" rx="7.4" ry="8.4"/><ellipse cx="1447.0" cy="1289.7" rx="7.4" ry="8.4"/><ellipse cx="1447.0" cy="1311.5" rx="7.4" ry="8.4"/><ellipse cx="1447.0" cy="1333.3" rx="7.4" ry="8.4"/><ellipse cx="1447.0" cy="1355.2" rx="7.4" ry="8.4"/><ellipse cx="1447.0" cy="1377.0" rx="7.4" ry="8.4"/><ellipse cx="1447.0" cy="1398.8" rx="7.4" ry="8.4"/><ellipse cx="1447.0" cy="1420.6" rx="7.4" ry="8.4"/><ellipse cx="1447.0" cy="1442.4" rx="7.4" ry="8.4"/><ellipse cx="1447.0" cy="1464.3" rx="7.4" ry="8.4"/><ellipse cx="1447.0" cy="1486.1" rx="7.4" ry="8.4"/><ellipse cx="1447.0" cy="1507.9" rx="7.4" ry="8.4"/></g>
<path d="M1630.3,1259.0Q1630.3,1254.0 1635.2,1253.3L1729.2,1239.7Q1734.1,1239.0 1734.1,1244.0L1735.1,1426.7Q1735.1,1431.7 1730.1,1431.1L1635.3,1419.6Q1630.3,1419.0 1630.3,1414.0Z" fill="#FAFBFA" stroke="#555" stroke-width="2.2"/><g fill="#D5DCD3" stroke="#3d483f" stroke-width="2.9"><ellipse cx="1642.1" cy="1263.5" rx="6.2" ry="7.0"/><ellipse cx="1642.1" cy="1283.0" rx="6.2" ry="7.0"/><ellipse cx="1642.1" cy="1302.5" rx="6.2" ry="7.0"/><ellipse cx="1642.1" cy="1322.0" rx="6.2" ry="7.0"/><ellipse cx="1642.1" cy="1341.5" rx="6.2" ry="7.0"/><ellipse cx="1642.1" cy="1361.0" rx="6.2" ry="7.0"/><ellipse cx="1642.1" cy="1380.5" rx="6.2" ry="7.0"/><ellipse cx="1642.1" cy="1400.0" rx="6.2" ry="7.0"/><ellipse cx="1657.9" cy="1262.0" rx="6.2" ry="7.1"/><ellipse cx="1657.9" cy="1282.0" rx="6.2" ry="7.1"/><ellipse cx="1657.9" cy="1302.0" rx="6.2" ry="7.1"/><ellipse cx="1657.9" cy="1321.9" rx="6.2" ry="7.1"/><ellipse cx="1657.9" cy="1341.9" rx="6.2" ry="7.1"/><ellipse cx="1657.9" cy="1361.9" rx="6.2" ry="7.1"/><ellipse cx="1657.9" cy="1381.9" rx="6.2" ry="7.1"/><ellipse cx="1657.9" cy="1401.9" rx="6.2" ry="7.1"/><ellipse cx="1673.8" cy="1260.5" rx="6.2" ry="7.3"/><ellipse cx="1673.8" cy="1281.0" rx="6.2" ry="7.3"/><ellipse cx="1673.8" cy="1301.4" rx="6.2" ry="7.3"/><ellipse cx="1673.8" cy="1321.9" rx="6.2" ry="7.3"/><ellipse cx="1673.8" cy="1342.4" rx="6.2" ry="7.3"/><ellipse cx="1673.8" cy="1362.8" rx="6.2" ry="7.3"/><ellipse cx="1673.8" cy="1383.3" rx="6.2" ry="7.3"/><ellipse cx="1673.8" cy="1403.8" rx="6.2" ry="7.3"/><ellipse cx="1689.7" cy="1259.0" rx="6.2" ry="7.4"/><ellipse cx="1689.7" cy="1279.9" rx="6.2" ry="7.4"/><ellipse cx="1689.7" cy="1300.9" rx="6.2" ry="7.4"/><ellipse cx="1689.7" cy="1321.8" rx="6.2" ry="7.4"/><ellipse cx="1689.7" cy="1342.8" rx="6.2" ry="7.4"/><ellipse cx="1689.7" cy="1363.7" rx="6.2" ry="7.4"/><ellipse cx="1689.7" cy="1384.7" rx="6.2" ry="7.4"/><ellipse cx="1689.7" cy="1405.6" rx="6.2" ry="7.4"/><ellipse cx="1705.6" cy="1257.5" rx="6.2" ry="7.6"/><ellipse cx="1705.6" cy="1278.9" rx="6.2" ry="7.6"/><ellipse cx="1705.6" cy="1300.4" rx="6.2" ry="7.6"/><ellipse cx="1705.6" cy="1321.8" rx="6.2" ry="7.6"/><ellipse cx="1705.6" cy="1343.2" rx="6.2" ry="7.6"/><ellipse cx="1705.6" cy="1364.7" rx="6.2" ry="7.6"/><ellipse cx="1705.6" cy="1386.1" rx="6.2" ry="7.6"/><ellipse cx="1705.6" cy="1407.5" rx="6.2" ry="7.6"/><ellipse cx="1721.4" cy="1256.0" rx="6.2" ry="7.7"/><ellipse cx="1721.4" cy="1277.9" rx="6.2" ry="7.7"/><ellipse cx="1721.4" cy="1299.8" rx="6.2" ry="7.7"/><ellipse cx="1721.4" cy="1321.7" rx="6.2" ry="7.7"/><ellipse cx="1721.4" cy="1343.7" rx="6.2" ry="7.7"/><ellipse cx="1721.4" cy="1365.6" rx="6.2" ry="7.7"/><ellipse cx="1721.4" cy="1387.5" rx="6.2" ry="7.7"/><ellipse cx="1721.4" cy="1409.4" rx="6.2" ry="7.7"/></g>
<path d="M1898.9,1262.9Q1898.9,1257.9 1903.9,1257.2L2010.8,1243.1Q2015.8,1242.4 2015.8,1247.4L2017.4,1431.7Q2017.4,1436.7 2012.4,1436.2L1903.9,1424.3Q1898.9,1423.8 1898.9,1418.8Z" fill="#FBF9F6" stroke="#555" stroke-width="2.2"/><g fill="#E9D6C0" stroke="#3f362b" stroke-width="3.0"><ellipse cx="1914.3" cy="1269.2" rx="6.7" ry="7.6"/><ellipse cx="1914.3" cy="1288.8" rx="6.7" ry="7.6"/><ellipse cx="1914.3" cy="1308.3" rx="6.7" ry="7.6"/><ellipse cx="1914.3" cy="1327.9" rx="6.7" ry="7.6"/><ellipse cx="1914.3" cy="1347.4" rx="6.7" ry="7.6"/><ellipse cx="1914.3" cy="1367.0" rx="6.7" ry="7.6"/><ellipse cx="1914.3" cy="1386.5" rx="6.7" ry="7.6"/><ellipse cx="1914.3" cy="1406.1" rx="6.7" ry="7.6"/><ellipse cx="1932.0" cy="1267.3" rx="6.7" ry="7.8"/><ellipse cx="1932.0" cy="1287.3" rx="6.7" ry="7.8"/><ellipse cx="1932.0" cy="1307.3" rx="6.7" ry="7.8"/><ellipse cx="1932.0" cy="1327.3" rx="6.7" ry="7.8"/><ellipse cx="1932.0" cy="1347.3" rx="6.7" ry="7.8"/><ellipse cx="1932.0" cy="1367.3" rx="6.7" ry="7.8"/><ellipse cx="1932.0" cy="1387.4" rx="6.7" ry="7.8"/><ellipse cx="1932.0" cy="1407.4" rx="6.7" ry="7.8"/><ellipse cx="1949.8" cy="1265.3" rx="6.7" ry="7.9"/><ellipse cx="1949.8" cy="1285.8" rx="6.7" ry="7.9"/><ellipse cx="1949.8" cy="1306.3" rx="6.7" ry="7.9"/><ellipse cx="1949.8" cy="1326.8" rx="6.7" ry="7.9"/><ellipse cx="1949.8" cy="1347.2" rx="6.7" ry="7.9"/><ellipse cx="1949.8" cy="1367.7" rx="6.7" ry="7.9"/><ellipse cx="1949.8" cy="1388.2" rx="6.7" ry="7.9"/><ellipse cx="1949.8" cy="1408.7" rx="6.7" ry="7.9"/><ellipse cx="1967.5" cy="1263.4" rx="6.7" ry="8.1"/><ellipse cx="1967.5" cy="1284.3" rx="6.7" ry="8.1"/><ellipse cx="1967.5" cy="1305.3" rx="6.7" ry="8.1"/><ellipse cx="1967.5" cy="1326.2" rx="6.7" ry="8.1"/><ellipse cx="1967.5" cy="1347.1" rx="6.7" ry="8.1"/><ellipse cx="1967.5" cy="1368.1" rx="6.7" ry="8.1"/><ellipse cx="1967.5" cy="1389.0" rx="6.7" ry="8.1"/><ellipse cx="1967.5" cy="1409.9" rx="6.7" ry="8.1"/><ellipse cx="1985.2" cy="1261.4" rx="6.7" ry="8.2"/><ellipse cx="1985.2" cy="1282.8" rx="6.7" ry="8.2"/><ellipse cx="1985.2" cy="1304.2" rx="6.7" ry="8.2"/><ellipse cx="1985.2" cy="1325.6" rx="6.7" ry="8.2"/><ellipse cx="1985.2" cy="1347.0" rx="6.7" ry="8.2"/><ellipse cx="1985.2" cy="1368.4" rx="6.7" ry="8.2"/><ellipse cx="1985.2" cy="1389.8" rx="6.7" ry="8.2"/><ellipse cx="1985.2" cy="1411.2" rx="6.7" ry="8.2"/><ellipse cx="2002.9" cy="1259.5" rx="6.7" ry="8.4"/><ellipse cx="2002.9" cy="1281.4" rx="6.7" ry="8.4"/><ellipse cx="2002.9" cy="1303.2" rx="6.7" ry="8.4"/><ellipse cx="2002.9" cy="1325.1" rx="6.7" ry="8.4"/><ellipse cx="2002.9" cy="1346.9" rx="6.7" ry="8.4"/><ellipse cx="2002.9" cy="1368.8" rx="6.7" ry="8.4"/><ellipse cx="2002.9" cy="1390.6" rx="6.7" ry="8.4"/><ellipse cx="2002.9" cy="1412.5" rx="6.7" ry="8.4"/></g>
<circle cx="795.3" cy="1331" r="35.8" fill="#E2E2E2" stroke="#6a6a6a" stroke-width="2.5"/><text transform="translate(769.7,1343.4) scale(0.84,1)" font-family="Liberation Sans, sans-serif" font-size="38" fill="#222" stroke="#222" stroke-width="0.9">T</text><text x="790.1" y="1342.4" font-family="Liberation Sans, sans-serif" font-size="36" fill="#333" stroke="#333" stroke-width="0.5">(</text><text x="807.3" y="1343.0" font-family="Liberation Sans, sans-serif" font-size="33.6" text-anchor="middle" fill="#111">•</text><text x="813.7" y="1342.4" font-family="Liberation Sans, sans-serif" font-size="36" fill="#333" stroke="#333" stroke-width="0.5">)</text>
<circle cx="1043.3" cy="1331" r="36.6" fill="#fff" stroke="#333" stroke-width="2.5"/><text transform="translate(1017.7,1343.4) scale(0.84,1)" font-family="Liberation Sans, sans-serif" font-size="38" fill="#222" stroke="#222" stroke-width="0.9">T</text><text x="1038.1" y="1342.4" font-family="Liberation Sans, sans-serif" font-size="36" fill="#333" stroke="#333" stroke-width="0.5">(</text><text x="1055.3" y="1343.0" font-family="Liberation Sans, sans-serif" font-size="33.6" text-anchor="middle" fill="#111">•</text><text x="1061.7" y="1342.4" font-family="Liberation Sans, sans-serif" font-size="36" fill="#333" stroke="#333" stroke-width="0.5">)</text>
<circle cx="1277" cy="1330.5" r="36.8" fill="#fff" stroke="#333" stroke-width="2.5"/><text transform="translate(1251.4,1342.9) scale(0.84,1)" font-family="Liberation Sans, sans-serif" font-size="38" fill="#222" stroke="#222" stroke-width="0.9">T</text><text x="1271.8" y="1341.9" font-family="Liberation Sans, sans-serif" font-size="36" fill="#333" stroke="#333" stroke-width="0.5">(</text><text x="1289.0" y="1342.5" font-family="Liberation Sans, sans-serif" font-size="33.6" text-anchor="middle" fill="#111">•</text><text x="1295.4" y="1341.9" font-family="Liberation Sans, sans-serif" font-size="36" fill="#333" stroke="#333" stroke-width="0.5">)</text>
<circle cx="1547.5" cy="1330.5" r="36.6" fill="#fff" stroke="#333" stroke-width="2.5"/><text transform="translate(1521.9,1342.9) scale(0.84,1)" font-family="Liberation Sans, sans-serif" font-size="38" fill="#222" stroke="#222" stroke-width="0.9">T</text><text x="1542.3" y="1341.9" font-family="Liberation Sans, sans-serif" font-size="36" fill="#333" stroke="#333" stroke-width="0.5">(</text><text x="1559.5" y="1342.5" font-family="Liberation Sans, sans-serif" font-size="33.6" text-anchor="middle" fill="#111">•</text><text x="1565.9" y="1341.9" font-family="Liberation Sans, sans-serif" font-size="36" fill="#333" stroke="#333" stroke-width="0.5">)</text>
<circle cx="1816.3" cy="1330.5" r="36" fill="#fff" stroke="#333" stroke-width="2.5"/><text transform="translate(1790.7,1342.9) scale(0.84,1)" font-family="Liberation Sans, sans-serif" font-size="38" fill="#222" stroke="#222" stroke-width="0.9">T</text><text x="1811.1" y="1341.9" font-family="Liberation Sans, sans-serif" font-size="36" fill="#333" stroke="#333" stroke-width="0.5">(</text><text x="1828.3" y="1342.5" font-family="Liberation Sans, sans-serif" font-size="33.6" text-anchor="middle" fill="#111">•</text><text x="1834.7" y="1341.9" font-family="Liberation Sans, sans-serif" font-size="36" fill="#333" stroke="#333" stroke-width="0.5">)</text>
<circle cx="2110.9" cy="1331.3" r="37" fill="#fff" stroke="#9a9a9a" stroke-width="2.5"/><text transform="translate(2085.3,1343.7) scale(0.84,1)" font-family="Liberation Sans, sans-serif" font-size="38" fill="#222" stroke="#222" stroke-width="0.9">T</text><text x="2105.7" y="1342.7" font-family="Liberation Sans, sans-serif" font-size="36" fill="#333" stroke="#333" stroke-width="0.5">(</text><text x="2122.9" y="1343.3" font-family="Liberation Sans, sans-serif" font-size="33.6" text-anchor="middle" fill="#111">•</text><text x="2129.3" y="1342.7" font-family="Liberation Sans, sans-serif" font-size="36" fill="#333" stroke="#333" stroke-width="0.5">)</text>
<path d="M589,1331.0 H608" stroke="#000" stroke-width="5.6" fill="none"/><path d="M606,1315.8 L631.5,1331.0 L606,1346.2 Z" fill="#000"/>
<path d="M715.5,1331.0 H732" stroke="#000" stroke-width="5.6" fill="none"/><path d="M730,1315.8 L757,1331.0 L730,1346.2 Z" fill="#000"/>
<path d="M831.5,1331.0 H853.5" stroke="#000" stroke-width="5.6" fill="none"/><path d="M851.5,1315.8 L879,1331.0 L851.5,1346.2 Z" fill="#000"/>
<path d="M967,1331.0 H982.5" stroke="#000" stroke-width="5.6" fill="none"/><path d="M980.5,1315.8 L1006,1331.0 L980.5,1346.2 Z" fill="#000"/>
<path d="M1080,1331.0 H1102.7" stroke="#000" stroke-width="5.6" fill="none"/><path d="M1100.7,1315.8 L1128,1331.0 L1100.7,1346.2 Z" fill="#000"/>
<path d="M1199,1331.0 H1217" stroke="#000" stroke-width="5.6" fill="none"/><path d="M1215,1315.8 L1239.5,1331.0 L1215,1346.2 Z" fill="#000"/>
<path d="M1313.5,1331.0 H1337.7" stroke="#000" stroke-width="5.6" fill="none"/><path d="M1335.7,1315.8 L1360,1331.0 L1335.7,1346.2 Z" fill="#000"/>
<path d="M1462.7,1331.0 H1485.3" stroke="#000" stroke-width="5.6" fill="none"/><path d="M1483.3,1315.8 L1508,1331.0 L1483.3,1346.2 Z" fill="#000"/>
<path d="M1584,1331.0 H1607.6" stroke="#000" stroke-width="5.6" fill="none"/><path d="M1605.6,1315.8 L1630,1331.0 L1605.6,1346.2 Z" fill="#000"/>
<path d="M1735,1331.0 H1755.2" stroke="#000" stroke-width="5.6" fill="none"/><path d="M1753.2,1315.8 L1778,1331.0 L1753.2,1346.2 Z" fill="#000"/>
<path d="M1852.5,1331.0 H1876" stroke="#000" stroke-width="5.6" fill="none"/><path d="M1874,1315.8 L1899,1331.0 L1874,1346.2 Z" fill="#000"/>
<path d="M2017.4,1331.0 H2048.4" stroke="#000" stroke-width="5.6" fill="none"/><path d="M2046.4,1315.8 L2073,1331.0 L2046.4,1346.2 Z" fill="#000"/>
<path d="M2148,1331.0 H2193.4" stroke="#000" stroke-width="5.6" fill="none"/><path d="M2191.4,1315.8 L2219,1331.0 L2191.4,1346.2 Z" fill="#000"/>
<text transform="translate(2220.7,1351.3) scale(1.29,1)" x="0" y="0" font-family="Liberation Mono, monospace" font-size="79" fill="#000" stroke="#000" stroke-width="0.4">“cat”</text>
</g>
<g clip-path="url(#catclip)">
<g transform="translate(280,1160) scale(0.22080)">
<rect x="0" y="0" width="1540" height="1449" fill="#e6d8b8"/>
<g filter="url(#cb1)">
<rect x="-50" y="0" width="520" height="1449" fill="url(#catred)"/>
<ellipse cx="230" cy="330" rx="170" ry="210" fill="#0c0505"/>
<ellipse cx="120" cy="1150" rx="90" ry="200" fill="#2a0606"/>
<polygon points="380,0 1150,0 1120,150 1000,240 600,250 420,260" fill="#4e441a"/>
<ellipse cx="760" cy="170" rx="190" ry="70" fill="#2f3a18"/>
<polygon points="300,150 450,150 430,330 330,420" fill="#5a4a22"/>
<rect x="1290" y="0" width="260" height="1449" fill="#5e4f26"/>
<rect x="1340" y="0" width="220" height="700" fill="#3c3212"/>
<polygon points="1190,60 1290,60 1300,780 1250,760 1205,520" fill="#d9d6cc"/>
<path d="M640,300 L960,270 L1190,480 L1290,800 L1340,1100 L1360,1449 L600,1449 Z" fill="url(#catface)"/>
<path d="M330,1449 L310,1250 L350,820 L390,540 L420,330 L500,230 L740,250 L700,520 L660,760 L560,900 L640,1160 L760,1449 Z" fill="#f5f3f1"/>
<path d="M520,240 L940,250 L900,420 L700,460 L520,420 Z" fill="#f2ebdc"/>
</g>
<g filter="url(#cb2)">
<polygon points="425,330 445,215 520,185 590,260 560,340" fill="#efd9d9"/>
<polygon points="945,300 1060,190 1150,95 1195,240 1180,480 1090,520 1020,400" fill="#e6c3b4"/>
<polygon points="1040,390 1120,300 1170,330 1165,470 1100,490" fill="#d88c8c"/>
<polygon points="1130,120 1185,180 1185,330 1150,250" fill="#c98a84"/>
<path d="M650,560 L690,700 L640,800 L600,690 Z" fill="#fbfaf8"/>
<path d="M500,840 L560,860 L700,1110 L650,1130 Z" fill="#fbfaf8"/>
<ellipse cx="1180" cy="1120" rx="230" ry="300" fill="#bfa67e" opacity="0.3" filter="url(#cb1)"/>
<ellipse cx="990" cy="890" rx="120" ry="50" fill="#c2ab86" opacity="0.35"/>
<ellipse cx="420" cy="1000" rx="50" ry="200" fill="#e6e4e0" opacity="0.6"/>
<path d="M690,930 Q700,990 770,1010" stroke="#8a7458" stroke-width="22" fill="none" opacity="0.7"/>
</g>
<g filter="url(#cb3)">
<ellipse cx="575" cy="605" rx="58" ry="58" fill="#6a6238"/>
<ellipse cx="578" cy="606" rx="40" ry="40" fill="#7f9446"/>
<ellipse cx="585" cy="605" rx="11" ry="34" fill="#2c3a12"/>
<circle cx="548" cy="588" r="12" fill="#e8ecd8"/>
<g transform="rotate(-16 872 620)"><ellipse cx="872" cy="622" rx="78" ry="48" fill="#6a5a36"/><ellipse cx="880" cy="620" rx="56" ry="36" fill="#7f9446"/><ellipse cx="880" cy="618" rx="12" ry="34" fill="#2c3a12"/></g>
<path d="M625,815 Q685,790 745,815 Q720,870 690,885 Q650,865 625,815 Z" fill="#e0a092"/>
<path d="M686,880 L690,950" stroke="#a06a5a" stroke-width="12" fill="none"/>
</g>
</g></g>
</svg>
<div class="body">
<p style="top:477.6px;letter-spacing:0.675px;margin-left:0px">A deep neural network consists of a</p>
<p style="top:552.7px;letter-spacing:0.545px;margin-left:-4px"><b>hierarchy of layers</b>, whereby each</p>
<p style="top:627.8px;letter-spacing:1.405px;margin-left:-3.5px">layer transforms the input data into</p>
<p style="top:702.9px;letter-spacing:1.455px;margin-left:-3.5px">more abstract representations (e.g.</p>
<p style="top:778.0px;letter-spacing:0.135px;margin-left:-3px">edge -&gt; nose -&gt; face).</p>
<p style="top:928.2px;letter-spacing:0.935px;margin-left:0px">The output layer combines those</p>
<p style="top:1003.3px;letter-spacing:1.335px;margin-left:0px">features to make predictions</p>
</div>
<svg class="abs" style="left:39px;top:2138.5px" width="80" height="80" viewBox="-40 -40 80 80">
<circle cx="0" cy="0" r="27.6" fill="none" stroke="#222" stroke-width="2.5"/>
<path d="M-3,-8.2 H-9.8 Q-15.6,-8.2 -15.6,-2.4 V2.4 Q-15.6,8.2 -9.8,8.2 H-3" fill="none" stroke="#222" stroke-width="2.7"/>
<path d="M15.2,-8.2 H8.4 Q2.6,-8.2 2.6,-2.4 V2.4 Q2.6,8.2 8.4,8.2 H15.2" fill="none" stroke="#222" stroke-width="2.7"/>
</svg>
<div class="footer abs"><span class="pre">BY - NC - </span><u>nicolamattina.it</u></div>
</body>
</html>
